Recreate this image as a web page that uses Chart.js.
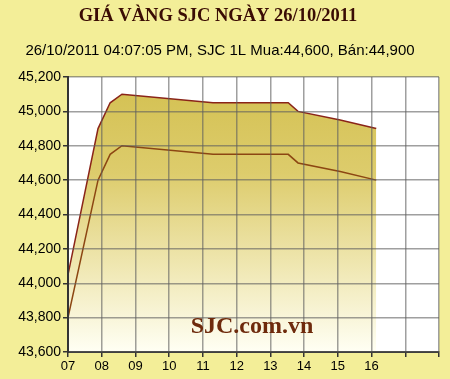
<!DOCTYPE html>
<html><head><meta charset="utf-8">
<script src="https://cdn.jsdelivr.net/npm/chart.js@4"></script>
<style>html,body{margin:0;padding:0;background:#f3ee98;}canvas{display:block;}</style>
</head><body>
<canvas id="c" width="450" height="379"></canvas>
<script>
const titleText = "GIÁ VÀNG SJC NGÀY 26/10/2011";
const subtitleText = "26/10/2011 04:07:05 PM, SJC 1L Mua:44,600, Bán:44,900";
const watermark = "SJC.com.vn";
const hours = [7, 7.89, 8.25, 8.6, 11.3, 13.53, 13.82, 15.07, 16.14];
const banValues = [44050, 44900, 45050, 45100, 45050, 45050, 45000, 44950, 44900];
const muaValues = [43800, 44600, 44750, 44800, 44750, 44750, 44700, 44650, 44600];
const xTickMin = 7, xTickMax = 18, xLabelMax = 16;
const yMin = 43600, yMax = 45200, yStep = 200;

const toPts = (xs, ys) => xs.map((x, i) => ({x: x, y: ys[i]}));

const bgPlugin = {
  id: 'bg',
  beforeDraw(chart) {
    const {ctx, chartArea: a} = chart;
    ctx.save();
    ctx.fillStyle = '#f3ee98';
    ctx.fillRect(0, 0, chart.width, chart.height);
    ctx.fillStyle = '#ffffff';
    ctx.fillRect(a.left, a.top, a.right - a.left, a.bottom - a.top);
    ctx.restore();
  },
  afterDraw(chart) {
    const {ctx} = chart;
    ctx.save();
    ctx.textAlign = 'center';
    ctx.textBaseline = 'alphabetic';
    ctx.fillStyle = '#3a0c04';
    ctx.font = 'bold 18.5px "Liberation Serif"';
    ctx.fillText(titleText, 218, 21);
    ctx.fillStyle = '#000000';
    ctx.font = '15px "Liberation Sans"';
    ctx.fillText(subtitleText, 220, 55);
    ctx.fillStyle = '#6e2a0c';
    ctx.font = 'bold 24px "Liberation Serif"';
    ctx.fillText(watermark, 252, 333);
    ctx.restore();
  }
};

new Chart(document.getElementById('c'), {
  type: 'line',
  data: {
    datasets: [
      {
        label: 'Bán',
        data: toPts(hours, banValues),
        order: 2,
        borderColor: '#8a2418',
        borderWidth: 1.5,
        pointRadius: 0,
        tension: 0,
        fill: 'start',
        backgroundColor(ctx) {
          const a = ctx.chart.chartArea;
          if (!a) return '#e0d070';
          const g = ctx.chart.ctx.createLinearGradient(0, a.top, 0, a.bottom);
          g.addColorStop(0, '#d3c050');
          g.addColorStop(0.35, '#ddcc6c');
          g.addColorStop(0.7, '#f0e8b4');
          g.addColorStop(1, '#fffff4');
          return g;
        }
      },
      {
        label: 'Mua',
        data: toPts(hours, muaValues),
        order: 1,
        borderColor: '#8c4612',
        borderWidth: 1.5,
        pointRadius: 0,
        tension: 0,
        fill: false
      }
    ]
  },
  options: {
    responsive: false,
    animation: false,
    events: [],
    layout: {padding: {top: 77, right: 11, left: 0, bottom: 0}},
    plugins: {legend: {display: false}, title: {display: false}, tooltip: {enabled: false}},
    scales: {
      x: {
        type: 'linear', min: xTickMin, max: xTickMax,
        afterFit(s) { s.height = 27; },
        ticks: {
          stepSize: 1, autoSkip: false, maxRotation: 0, padding: 2,
          color: '#000', font: {family: '"Liberation Sans"', size: 13},
          callback: v => v <= xLabelMax ? String(v).padStart(2, '0') : ''
        },
        grid: {color: 'rgba(95,95,95,0.6)', lineWidth: 1.5, tickLength: 5, tickColor: '#333', z: 1},
        border: {color: '#333', width: 2, z: 1}
      },
      y: {
        min: yMin, max: yMax,
        afterFit(s) { s.width = 68; },
        ticks: {
          stepSize: yStep, padding: 2, color: '#000',
          font: {family: '"Liberation Sans"', size: 14},
          callback: v => v.toLocaleString('en-US')
        },
        grid: {color: 'rgba(95,95,95,0.6)', lineWidth: 1.5, tickLength: 5, tickColor: '#333', z: 1},
        border: {color: '#333', width: 2, z: 1}
      }
    }
  },
  plugins: [bgPlugin]
});
</script>
</body></html>
